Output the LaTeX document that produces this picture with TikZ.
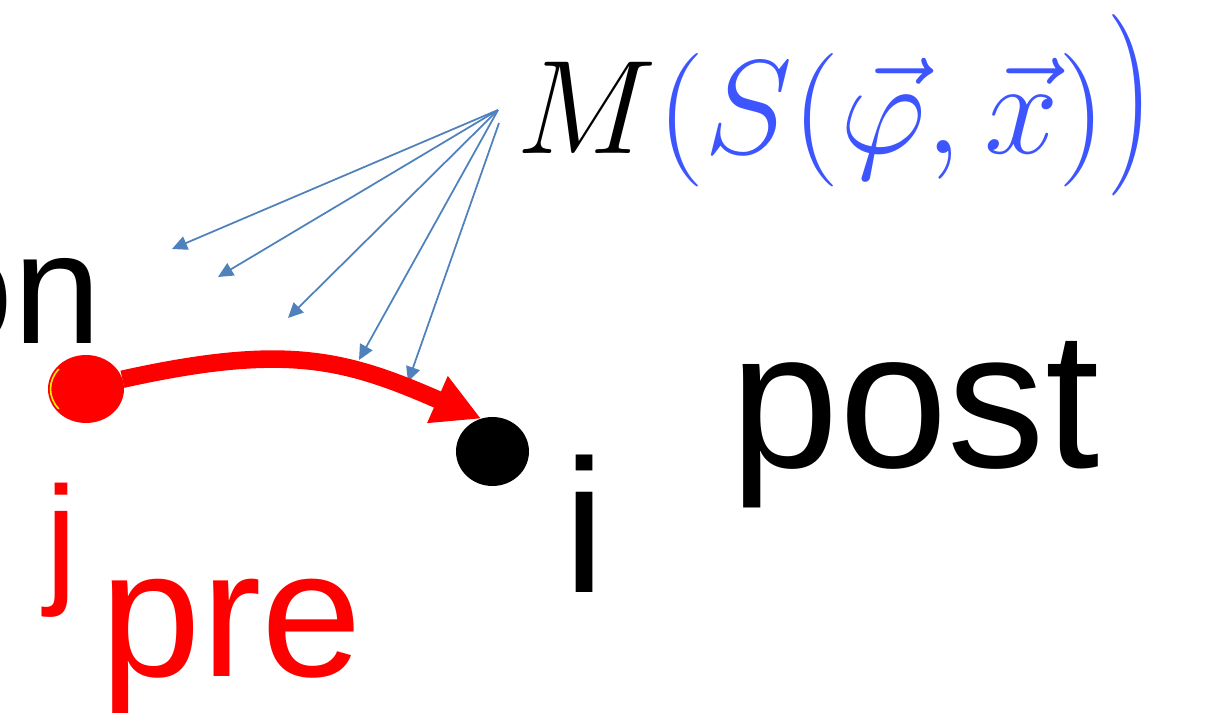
\RequirePackage{fix-cm}
\documentclass[tikz,border=0pt]{standalone}
\usepackage{fontspec}
\usepackage{amsmath}
\usepackage{graphicx}
\usepackage{tikz}
\usetikzlibrary{arrows.meta, positioning, shapes.geometric, calc}
\newfontfamily\arialfont{Liberation Sans}
\definecolor{linkblue}{RGB}{79,129,189}
\definecolor{eqblue}{RGB}{61,85,255}
\newcommand{\modfun}{M\textcolor{eqblue}{(S(\vec{\varphi},\vec{x})\raisebox{0.02em}{\scalebox{1}[1.36]{$)$}}}}

\begin{document}
\begin{tikzpicture}[
    every node/.style={inner sep=0pt, outer sep=0pt},
    word/.style={anchor=base west, font=\arialfont},
    neuron/.style={ellipse, fill, minimum width=#1, minimum height=0.69cm},
    modarrow/.style={-{Triangle[length=4.3pt, width=4pt]}, linkblue, line width=0.5pt},
    synapse/.style={-{Triangle[length=13.6pt, width=13.6pt]}, red, line width=5pt},
]
    \useasboundingbox (0,0) rectangle (12.08,-7.13);

    % the two cells: presynaptic j (red) and postsynaptic i (black)
    \node[neuron=0.76cm, red, minimum height=0.68cm] (jdot) at (0.86,-3.89) {};
    \draw[yellow, line width=0.45pt]
        ($(jdot.center)+(140:0.355cm and 0.31cm)$) arc[start angle=140, end angle=220, x radius=0.355cm, y radius=0.31cm];
    \node[neuron=0.73cm, black] (idot) at (4.925,-4.515) {};

    % labels
    \node[word, anchor=base east, font=\arialfont\fontsize{45}{50}\selectfont] (on) at (1.016,-3.44) {on};
    \node[word, font=\arialfont\fontsize{55.5}{60}\selectfont] (post) at (7.31,-4.67) {post};
    \node[word, font=\arialfont\fontsize{54}{58}\selectfont] (ilbl) at (5.64,-5.93) {i};
    \node[word, red, font=\arialfont\fontsize{41}{45}\selectfont] (jlbl) at (0.455,-5.88) {j};
    \node[word, red, font=\arialfont\fontsize{51.5}{55}\selectfont] (pre) at (1.01,-6.77) {pre};

    % the modulating factor and where it acts
    \node[anchor=base west, font=\fontsize{38}{42}\selectfont] (modf) at (5.17,-1.53) {$\modfun$};
    \coordinate (src) at (4.98,-1.10);
    \coordinate (src2) at (4.99,-1.23);
    \coordinate (t1) at (1.72,-2.49);
    \coordinate (t2) at (2.18,-2.77);
    \coordinate (t3) at (2.88,-3.18);
    \coordinate (t4) at (3.59,-3.60);
    \coordinate (t5) at (4.08,-3.82);
    \foreach \t in {t1,t2,t3,t4}
        \draw[modarrow] (src) -- (\t);
    \draw[modarrow] (src2) -- (t5);

    % the synapse j -> i
    \draw[synapse] (jdot.15) .. controls (2.86,-3.43) and (3.45,-3.59) .. (idot.109);
\end{tikzpicture}
\end{document}
